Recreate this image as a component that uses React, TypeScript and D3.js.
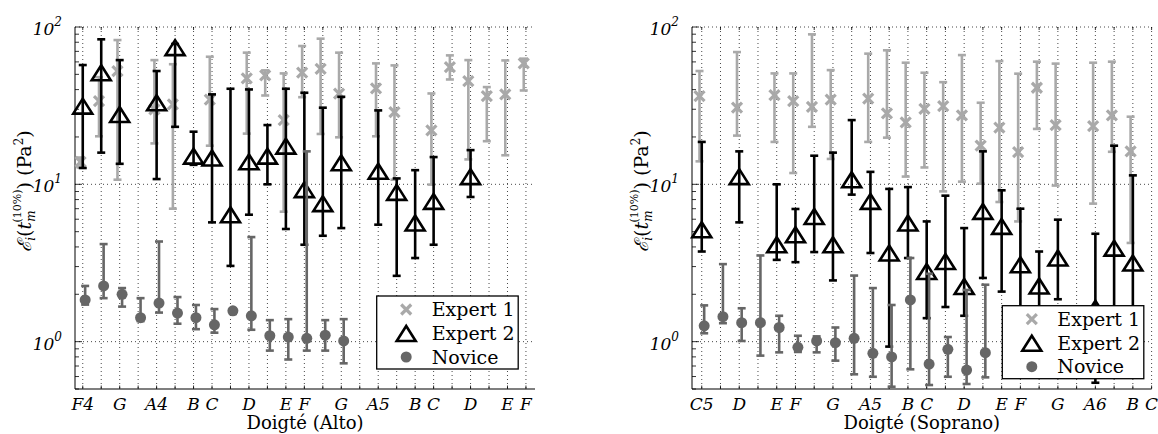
import React from 'react';
import * as d3 from 'd3';

// Tick categories (semitone index from the first note) and labels
const altoTickIdx = [0, 2, 4, 6, 7, 9, 11, 12, 14, 16, 18, 19, 21, 23, 24];
const altoTickLabels = ['F4', 'G', 'A4', 'B', 'C', 'D', 'E', 'F', 'G', 'A5', 'B', 'C', 'D', 'E', 'F'];
const sopTickIdx = [0, 2, 4, 5, 7, 9, 11, 12, 14, 16, 17, 19, 21, 23, 24];
const sopTickLabels = ['C5', 'D', 'E', 'F', 'G', 'A5', 'B', 'C', 'D', 'E', 'F', 'G', 'A6', 'B', 'C'];
const yDecades = [1, 10, 100];
const yDecadeExp = ['0', '1', '2'];
const legendLabels = ['Expert 1', 'Expert 2', 'Novice'];

// [semitone index, value, lower, upper]
const altoExpert1: number[][] = [
  [0, 13.9, 12.8, 14.8], [1, 33.8, 20.2, 48], [2, 52.5, 10.7, 82.6], [4, 29.9, 18.2, 61.6],
  [5, 32.2, 7.0, 58], [7, 34.6, 17.6, 64.7], [9, 47.1, 21.0, 68.7], [10, 49.3, 36.7, 53.0],
  [11, 25.6, 6.7, 50.7], [12, 51.2, 35.8, 75.7], [13, 54.2, 20.9, 84.3], [14, 37.7, 19.9, 68.7],
  [16, 40.7, 20.2, 58.7], [17, 28.8, 10.7, 57.0], [19, 22.0, 9.96, 37.8], [20, 55.6, 46.4, 66.0],
  [21, 45.3, 14.4, 61.6], [22, 36.4, 18.8, 41.5], [23, 37.3, 15.3, 61.3], [24, 58.7, 39.5, 62.9],
];
const altoExpert2: number[][] = [
  [0, 31.4, 12.7, 57.3], [1, 51.2, 15.9, 83.5], [2, 27.8, 13.5, 61.6], [4, 33.0, 10.8, 52.5],
  [5, 73.9, 23.2, 78], [6, 15.1, 13.3, 21.6], [7, 14.7, 5.73, 37.3], [8, 6.41, 3.03, 40.5],
  [9, 13.9, 6.41, 40.1], [10, 15.1, 10.0, 23.8], [11, 17.5, 5.2, 40.5], [12, 9.25, 4.13, 38.2],
  [13, 7.54, 4.71, 30.7], [14, 13.7, 5.27, 36.0], [16, 12.1, 5.54, 29.5], [17, 8.89, 2.62, 10.9],
  [18, 5.68, 3.40, 12.3], [19, 7.79, 4.13, 14.9], [21, 11.2, 8.31, 16.5],
];
const altoNovice: number[][] = [
  [0, 1.84, 1.72, 2.26], [1, 2.26, 1.89, 4.17], [2, 2.0, 1.67, 2.19], [3, 1.42, 1.35, 1.89],
  [4, 1.76, 1.53, 4.33], [5, 1.52, 1.30, 1.92], [6, 1.42, 1.20, 1.71], [7, 1.28, 1.14, 1.61],
  [8, 1.57, 1.5, 1.62], [9, 1.46, 1.19, 4.62], [10, 1.09, 0.877, 1.37], [11, 1.07, 0.77, 1.39],
  [12, 1.05, 0.877, 16.2], [13, 1.10, 0.877, 1.37], [14, 1.01, 0.728, 1.39],
];
const sopExpert1: number[][] = [
  [0, 36.4, 14.0, 52.5], [2, 30.7, 20.4, 69.3], [4, 36.9, 18.6, 50.7], [5, 33.8, 11.8, 50.7],
  [6, 31.1, 23.2, 89.8], [7, 34.6, 14.5, 53.2], [9, 35.0, 18.6, 67.7], [10, 28.2, 19.8, 71.1],
  [11, 24.8, 11.2, 59.3], [12, 30.2, 12.8, 51.2], [13, 31.4, 9.02, 44.6], [14, 27.4, 10.4, 66.3],
  [15, 17.6, 10.1, 33.0], [16, 22.9, 7.72, 60.7], [17, 16.0, 5.81, 50.5], [18, 41.1, 22.5, 60.2],
  [19, 23.8, 9.82, 58.5], [21, 23.4, 7.54, 59.3], [22, 27.4, 16.1, 60.2], [23, 16.2, 4.24, 26.9],
];
const sopExpert2: number[][] = [
  [0, 5.14, 3.74, 18.6], [2, 11.2, 5.73, 16.2], [4, 4.13, 3.31, 10.0], [5, 4.78, 3.2, 6.97],
  [6, 6.25, 3.71, 15.2], [7, 4.13, 2.45, 15.9], [8, 10.7, 8.6, 25.6], [9, 7.79, 3.66, 12.0],
  [10, 3.66, 0.93, 9.35], [11, 5.68, 3.4, 9.6], [12, 2.79, 1.41, 5.81], [13, 3.23, 1.66, 8.47],
  [14, 2.24, 1.46, 5.27], [15, 6.73, 2.54, 16.2], [16, 5.40, 2.08, 9.16], [17, 3.08, 1.5, 7.0],
  [18, 2.26, 1.6, 3.74], [19, 3.40, 1.86, 5.96], [21, 1.63, 0.548, 4.85], [22, 3.93, 1.2, 17.6],
  [23, 3.16, 1.0, 11.4],
];
const sopNovice: number[][] = [
  [0, 1.26, 1.13, 1.70], [1, 1.44, 1.31, 3.11], [2, 1.32, 1.01, 1.63], [3, 1.32, 0.815, 3.53],
  [4, 1.23, 0.855, 1.46], [5, 0.92, 0.86, 1.09], [6, 1.01, 0.855, 1.08], [7, 0.985, 0.757, 1.23],
  [8, 1.05, 0.62, 2.63], [9, 0.843, 0.598, 2.19], [10, 0.80, 0.517, 1.71], [11, 1.84, 0.667, 3.4],
  [12, 0.72, 0.53, 2.7], [13, 0.894, 0.598, 1.07], [14, 0.66, 0.538, 2.13], [15, 0.851, 0.593, 2.30],
];

const C_E1 = '#a9a9a9';
const C_E2 = '#000000';
const C_NOV = '#666666';
const SERIF = 'DejaVu Serif';

const TOP = 27;
const BOTTOM = 389;

function XMark({ x, y, c }: { x: number; y: number; c: string }) {
  const s = 5;
  return (
    <g stroke={c} strokeWidth={3.2} strokeLinecap="butt">
      <line x1={x - s} y1={y - s} x2={x + s} y2={y + s} />
      <line x1={x - s} y1={y + s} x2={x + s} y2={y - s} />
    </g>
  );
}
function Tri({ x, y, c }: { x: number; y: number; c: string }) {
  const w = 9.5, h = 7.5;
  return (
    <polygon
      points={`${x},${y - h} ${x - w},${y + h} ${x + w},${y + h}`}
      fill="none"
      stroke={c}
      strokeWidth={2.6}
      strokeLinejoin="miter"
    />
  );
}
function Dot({ x, y, c }: { x: number; y: number; c: string }) {
  return <circle cx={x} cy={y} r={5.5} fill={c} />;
}

function Series({ data, x, y, off, color, kind }: any) {
  return (
    <g>
      {data.map((d: number[], k: number) => {
        const cx = x(d[0] + off);
        const cy = y(d[1]);
        const y1 = y(d[3]);
        const y2 = y(d[2]);
        return (
          <g key={k}>
            <g stroke={color} strokeWidth={2.6}>
              <line x1={cx} x2={cx} y1={y1} y2={y2} />
              <line x1={cx - 4} x2={cx + 4} y1={y1} y2={y1} />
              <line x1={cx - 4} x2={cx + 4} y1={y2} y2={y2} />
            </g>
            {kind === 'x' && <XMark x={cx} y={cy} c={color} />}
            {kind === 'tri' && <Tri x={cx} y={cy} c={color} />}
            {kind === 'dot' && <Dot x={cx} y={cy} c={color} />}
          </g>
        );
      })}
    </g>
  );
}

function Panel({ x0, x1, dom, tickIdx, tickLabels, e1, e2, nov, xlabel, legX, legY }: any) {
  const x = d3.scaleLinear().domain(dom).range([x0, x1]);
  const y = d3.scaleLog().domain([0.5, 100]).range([BOTTOM, TOP]);
  const allIdx = d3.range(0, 25);
  const minor: number[] = [];
  [0.1, 1, 10].forEach((dec) => {
    for (let m = 2; m <= 9; m++) {
      const v = dec * m;
      if (v >= 0.5 && v < 100) minor.push(v);
    }
  });
  const rowDy = [13.5, 37.5, 61];
  return (
    <g>
      {/* grid */}
      <g stroke="#333" strokeWidth={0.9} strokeDasharray="1,3">
        {allIdx.map((i) => (
          <line key={'v' + i} x1={x(i)} x2={x(i)} y1={TOP} y2={BOTTOM} />
        ))}
        {yDecades.map((v) => (
          <line key={'h' + v} x1={x0} x2={x1} y1={y(v)} y2={y(v)} />
        ))}
      </g>
      {/* ticks */}
      <g stroke="#000" strokeWidth={0.8}>
        {allIdx.map((i) => (
          <g key={'t' + i}>
            <line x1={x(i)} x2={x(i)} y1={BOTTOM} y2={BOTTOM - 3.5} />
            <line x1={x(i)} x2={x(i)} y1={TOP} y2={TOP + 3} />
          </g>
        ))}
        {minor.map((v) => (
          <line key={'m' + v} x1={x0} x2={x0 + 4} y1={y(v)} y2={y(v)} />
        ))}
        {yDecades.map((v) => (
          <line key={'M' + v} x1={x0} x2={x0 + 7} y1={y(v)} y2={y(v)} />
        ))}
      </g>
      {/* axes */}
      <line x1={x0} x2={x0} y1={TOP} y2={BOTTOM} stroke="#000" strokeWidth={1} />
      <line x1={x0} x2={x1} y1={BOTTOM} y2={BOTTOM} stroke="#000" strokeWidth={1.2} />
      {/* data */}
      <Series data={e1} x={x} y={y} off={-0.12} color={C_E1} kind="x" />
      <Series data={e2} x={x} y={y} off={0} color={C_E2} kind="tri" />
      <Series data={nov} x={x} y={y} off={0.13} color={C_NOV} kind="dot" />
      {/* tick labels */}
      <g fontFamily={SERIF} fontStyle="italic" fontSize={17} textAnchor="middle">
        {tickIdx.map((i: number, k: number) => (
          <text key={'xl' + k} x={x(i)} y={410}>
            {tickLabels[k]}
          </text>
        ))}
      </g>
      <g fontFamily={SERIF} fontStyle="italic" fontSize={17} textAnchor="end">
        {yDecades.map((v, k) => (
          <text key={'yl' + k} x={x0 - 13} y={y(v) + 8}>
            10
            <tspan fontSize={12} dy={-9}>
              {yDecadeExp[k]}
            </tspan>
          </text>
        ))}
      </g>
      <text x={(x0 + x1) / 2} y={429} fontFamily={SERIF} fontSize={18} textAnchor="middle">
        {xlabel}
      </text>
      {/* y label */}
      <text
        transform={`translate(${x0 - 44},191) rotate(-90)`}
        fontFamily={SERIF}
        fontSize={19}
        textAnchor="middle"
      >
        <tspan fontStyle="italic">ℰ</tspan>
        <tspan fontSize={12} fontStyle="italic" dy={4}>i</tspan>
        <tspan dy={-4}>(</tspan>
        <tspan fontStyle="italic">t</tspan>
        <tspan fontSize={12} fontStyle="italic" dy={4}>m</tspan>
        <tspan fontSize={11} dx={-12} dy={-14}>(10%)</tspan>
        <tspan dy={10}>) (Pa</tspan>
        <tspan fontSize={12} dy={-8}>2</tspan>
        <tspan dy={8}>)</tspan>
      </text>
      {/* legend */}
      <g>
        <rect x={legX} y={legY} width={141.5} height={73} fill="#fff" stroke="#000" strokeWidth={1.3} />
        <XMark x={legX + 29.5} y={legY + rowDy[0]} c={C_E1} />
        <Tri x={legX + 29.5} y={legY + rowDy[1]} c={C_E2} />
        <Dot x={legX + 29.5} y={legY + rowDy[2]} c={C_NOV} />
        <g fontFamily={SERIF} fontSize={19}>
          {legendLabels.map((l, k) => (
            <text key={l} x={legX + 55} y={legY + rowDy[k] + 6.5}>
              {l}
            </text>
          ))}
        </g>
      </g>
    </g>
  );
}

export default function App() {
  return (
    <svg width={1158} height={434} style={{ display: 'block', position: 'absolute', left: 0, top: 0 }}>
      <rect width={1158} height={434} fill="#fff" />
      <Panel
        x0={75}
        x1={535}
        dom={[-0.42, 24.49]}
        tickIdx={altoTickIdx}
        tickLabels={altoTickLabels}
        e1={altoExpert1}
        e2={altoExpert2}
        nov={altoNovice}
        xlabel="Doigté (Alto)"
        legX={376.7}
        legY={296}
      />
      <Panel
        x0={692}
        x1={1151.6}
        dom={[-0.52, 24]}
        tickIdx={sopTickIdx}
        tickLabels={sopTickLabels}
        e1={sopExpert1}
        e2={sopExpert2}
        nov={sopNovice}
        xlabel="Doigté (Soprano)"
        legX={1002.3}
        legY={305.7}
      />
    </svg>
  );
}
